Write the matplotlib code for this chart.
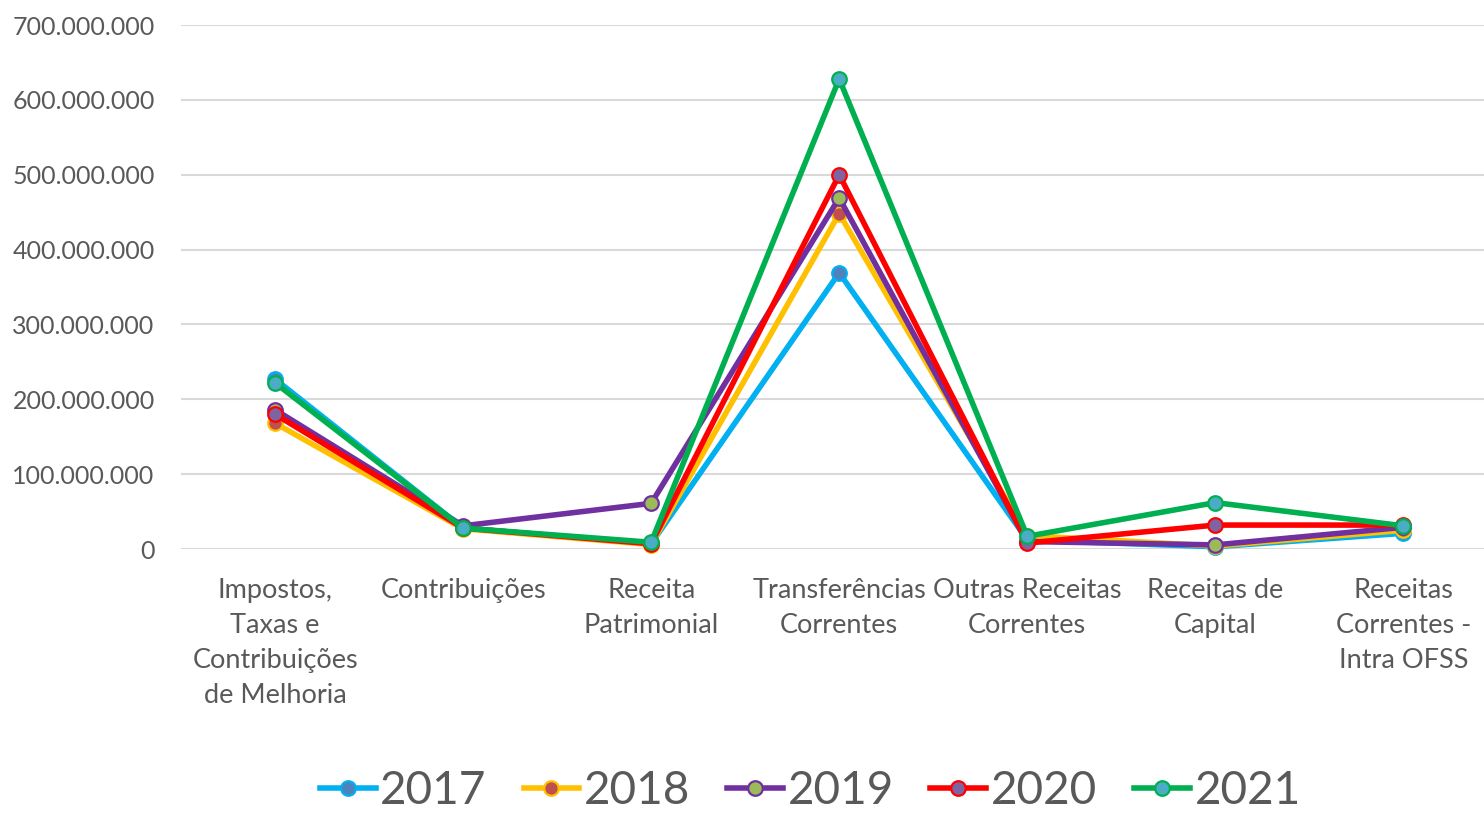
import matplotlib
matplotlib.use("Agg")
import matplotlib.pyplot as plt
from matplotlib.ticker import FuncFormatter

plt.rcParams["font.family"] = ["Lato", "DejaVu Sans"]

categories = [
    "Impostos,\nTaxas e\nContribuições\nde Melhoria",
    "Contribuições",
    "Receita\nPatrimonial",
    "Transferências\nCorrentes",
    "Outras Receitas\nCorrentes",
    "Receitas de\nCapital",
    "Receitas\nCorrentes -\nIntra OFSS",
]

years = ["2017", "2018", "2019", "2020", "2021"]

v2017 = [227e6, 28e6, 7e6, 369e6, 12e6, 3e6, 21e6]
v2018 = [168e6, 27e6, 6e6, 448e6, 18e6, 4e6, 25e6]
v2019 = [186e6, 31e6, 61e6, 469e6, 10e6, 5.5e6, 29e6]
v2020 = [180e6, 28e6, 7e6, 500e6, 8e6, 32e6, 32e6]
v2021 = [222e6, 28e6, 9e6, 628e6, 17e6, 62e6, 31e6]

series = [v2017, v2018, v2019, v2020, v2021]
line_colors = ["#00B0F0", "#FFC000", "#7030A0", "#FF0000", "#00B050"]
face_colors = ["#4F81BD", "#C0504D", "#9BBB59", "#8064A2", "#4BACC6"]

fig = plt.figure(figsize=(14.84, 8.13), dpi=100)
ax = fig.add_axes([0.122, 0.3247, 0.887, 0.6445])

x = list(range(len(categories)))
for vals, yr, lc, fc in zip(series, years, line_colors, face_colors):
    ax.plot(x, vals, color=lc, lw=4, marker="o", markersize=10.5,
            markerfacecolor=fc, markeredgecolor=lc, markeredgewidth=1.6,
            label=yr, zorder=3, clip_on=False)

ax.set_xlim(-0.5, 6.5)
ax.set_ylim(0, 700e6)
ax.set_yticks([i * 100e6 for i in range(8)])
ax.yaxis.set_major_formatter(FuncFormatter(lambda v, p: f"{int(v):,}".replace(",", ".")))
ax.grid(axis="y", color="#D9D9D9", lw=1.5)
ax.set_axisbelow(True)
for s in ax.spines.values():
    s.set_visible(False)
ax.tick_params(axis="both", length=0, labelcolor="#595959")
ax.tick_params(axis="y", pad=19, labelsize=18)
ax.set_xticks(x)
ax.set_xticklabels(categories, linespacing=1.5, va="top")
ax.tick_params(axis="x", pad=21, labelsize=19.5)

leg = fig.legend(loc="center", bbox_to_anchor=(0.546, 0.027), ncol=5, frameon=False,
                 fontsize=33, handlelength=1.22, handletextpad=0.1, columnspacing=0.8)
for t in leg.get_texts():
    t.set_color("#595959")

fig.savefig("out.png", dpi=100)
